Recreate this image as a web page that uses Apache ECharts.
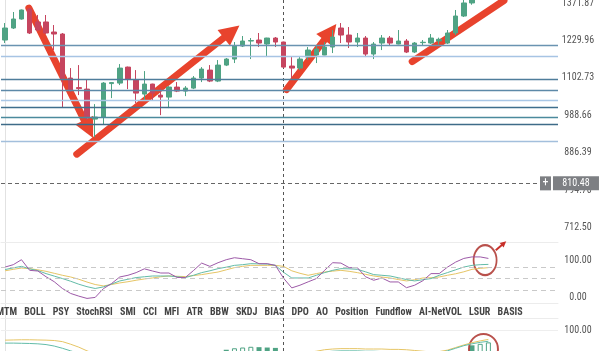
<!DOCTYPE html>
<html>
<head>
<meta charset="utf-8">
<script src="https://cdn.jsdelivr.net/npm/echarts@6/dist/echarts.min.js"></script>
<style>
html, body { margin: 0; padding: 0; background: #fff; }
#main { width: 600px; height: 351px; }
</style>
</head>
<body>
<div id="main"></div>
<script>
var chart = echarts.init(document.getElementById('main'));

var slotCount = 68;
var categories = [];
for (var i = 0; i < slotCount; i++) categories.push(String(i));

// [open, close, low, high]
var candles = [
  [1231.4, 1275.3, 1220.6, 1294.0], [1275.3, 1309.3, 1271.6, 1336.4], [1309.3, 1344.2, 1307.0, 1346.0],
  [1348.0, 1256.9, 1253.2, 1352.0], [1298.0, 1268.0, 1264.0, 1325.0], [1298.0, 1256.9, 1253.2, 1324.7],
  [1260.5, 1253.2, 1195.9, 1286.5], [1253.2, 1102.0, 1012.5, 1256.9], [1102.0, 1064.0, 1057.8, 1134.6],
  [1071.8, 1068.7, 1048.6, 1144.6], [1067.1, 980.5, 974.8, 1098.8], [977.7, 983.4, 927.6, 1021.4],
  [983.4, 1086.0, 963.4, 1089.2], [1084.4, 1087.6, 1039.4, 1089.2], [1086.0, 1134.6, 1079.7, 1148.0],
  [1137.9, 1098.8, 1067.1, 1139.6], [1095.6, 1054.7, 1024.4, 1128.0], [1051.7, 1082.9, 1033.4, 1124.7],
  [1082.9, 1054.7, 1033.4, 1084.0], [1048.6, 1042.5, 989.1, 1070.2], [1042.5, 1073.4, 1009.6, 1076.5],
  [1073.4, 1060.9, 1057.8, 1089.2], [1060.9, 1070.2, 1045.5, 1076.5], [1070.2, 1102.0, 1067.1, 1108.5],
  [1102.0, 1131.3, 1089.2, 1137.9], [1128.0, 1092.4, 1089.2, 1144.6], [1092.4, 1144.6, 1089.2, 1161.5],
  [1144.6, 1164.9, 1141.3, 1168.3], [1164.9, 1210.0, 1151.4, 1224.2], [1210.0, 1227.8, 1206.5, 1245.9],
  [1227.8, 1229.6, 1164.9, 1238.6], [1231.4, 1220.6, 1206.5, 1256.9], [1217.1, 1238.6, 1171.7, 1239.5],
  [1238.6, 1224.2, 1206.5, 1242.3], [1224.2, 1137.9, 1134.6, 1225.5], [1141.3, 1134.6, 1102.0, 1171.7],
  [1134.6, 1164.9, 1128.0, 1171.7], [1171.7, 1195.9, 1161.5, 1206.5], [1178.6, 1199.4, 1151.4, 1213.5],
  [1178.6, 1206.5, 1178.0, 1224.2], [1206.5, 1242.3, 1185.5, 1267.9], [1275.3, 1249.5, 1220.6, 1294.0],
  [1249.5, 1224.2, 1203.0, 1279.0], [1224.2, 1238.6, 1206.5, 1256.9], [1238.6, 1182.0, 1171.7, 1245.9],
  [1182.0, 1217.1, 1164.9, 1224.2], [1220.6, 1238.6, 1195.9, 1249.5], [1238.6, 1220.6, 1213.5, 1245.9],
  [1217.1, 1227.8, 1216.0, 1267.9], [1227.8, 1189.0, 1185.5, 1235.0], [1189.0, 1220.6, 1185.5, 1224.2],
  [1222.0, 1223.5, 1213.5, 1231.4], [1220.6, 1238.6, 1217.1, 1253.2], [1228.0, 1234.0, 1215.0, 1240.0],
  [1220.6, 1256.9, 1217.1, 1267.9], [1256.9, 1320.8, 1249.5, 1344.2], [1320.8, 1372.0, 1317.0, 1390.0],
  [1372.0, 1400.0, 1365.0, 1410.0], [1400.0, 1440.0, 1395.0, 1455.0], [1440.0, 1470.0, 1432.0, 1490.0]
];

var priceTicks = [1371.87, 1229.96, 1102.73, 988.66, 886.39, 794.70, 712.50];
var priceMin = 683, priceMax = 1384;
var levels = [1217.1, 1172.8, 1099.8, 1061.0, 1033.4, 1009.6, 987.2, 959.9, 915.0];
var levelColors = ['#6a93b1', '#a7c4e4', '#4f7d9b', '#5d89a8', '#a9c7e6', '#3f6f8d', '#4b8a9d', '#3e6b88', '#a3bfdc'];
var crossIndex = 34;
var crossPrice = 810.48;

// drawn arrows, [index, price] pairs
var arrowsHead = [
  [[2.9, 1351.8], [10.2, 949.4]],
  [[8.75, 882.6], [27.65, 1262.0]],
  [[34.35, 1065.6], [39.7, 1260.5]]
];
var arrowsPlain = [
  [[49.7, 1156.4], [60.9, 1382.0]]
];

// indicator pane
var kLine = [81.8, 88.3, 101.8, 72.9, 71, 55.4, 41.9, 23.5, 10, 2.7,
  -3.5, -0.8, 23, 37, 54.8, 59.4, 66.7, 77, 71, 65.6,
  65.6, 53.5, 53.2, 72.4, 92.6, 83.7, 93.7, 101.8, 107.2, 104.5,
  101.8, 91, 91, 86.4, 51.3, 25.1, 32.4, 41.6, 50.5, 72.9,
  93.7, 92.6, 80.2, 80.2, 55.4, 45.9, 52.1, 41.3, 41.3, 25.7,
  32.4, 44.6, 64, 64, 81.5, 95.3, 105.3, 109.4, 109.4, 105.3];
var dLine = [75, 79.7, 83.7, 77, 72.1, 64, 57.2, 50.5, 43.2, 35.1,
  28.4, 23.5, 27.8, 35.6, 44, 48.6, 53.2, 55.4, 57.5, 57.5,
  57.5, 55.4, 53.2, 59.4, 66.7, 71.6, 77.5, 81.5, 86.4, 88.3,
  91, 90.5, 90, 86.4, 67.5, 52.1, 52.1, 52.1, 59.4, 66.7,
  72.9, 77.5, 77, 75.6, 68.9, 61.3, 59.4, 57.5, 52.7, 47.8,
  44, 47.3, 50.5, 59.4, 66.7, 74.3, 81.8, 86.4, 88.3, 89.1];
var jLine = [71.6, 75.6, 79.1, 77.5, 74.3, 70.2, 64.8, 59.4, 54.8, 48.6,
  41, 34.3, 30.5, 34.3, 38.6, 41.9, 45.9, 49.4, 52.1, 55.4,
  57.5, 56.7, 55.9, 58.6, 61.3, 64.8, 68.3, 74.3, 80.2, 83.7,
  86.4, 86.4, 86.4, 86.4, 83.7, 71.6, 64.8, 59.4, 64, 68.3,
  70.7, 72.9, 70.2, 66.7, 62.1, 57.5, 54.5, 52.1, 47.8, 44,
  47.3, 52.1, 52.7, 54.8, 59.4, 63.5, 68.9, 75.6, 78.3, 80.2];
var kdjLevels = [80, 50, 20];
var kdjTicks = [0, 100];
var kdjCircle = [58.6, 100.5];
var kdjPointer = [[59.9, 127.5], [60.9, 146.5]];

// lowest pane
var lowerYellow = [74, 74.5, 75, 75, 74.5, 74, 73, 70, 63, 55,
  45, 37, 30, 25, 22, 20, 20, 21, 23, 25,
  27, 29, 31, 33, 35, 37, 38, 39, 40, 41,
  42, 42, 42, 42, 41, 40, 40, 41, 44, 48,
  50, 51, 51, 51, 50, 50, 50, 49, 49, 48,
  46, 44, 42, 43, 47, 54, 61, 67, 72, 76];
var lowerTeal = [66, 66, 65.5, 65, 64, 62, 58, 52, 45, 38,
  32, 27, 23, 20, 18, 17, 17, 18, 20, 22,
  24, 26, 28, 30, 32, 33, 34, 35, 36, 37,
  38, 38, 38, 38, 37, 36, 36, 37, 39, 42,
  44, 45, 45, 45, 44, 44, 43, 43, 42, 41,
  40, 39, 38, 40, 45, 52, 59, 64, 68, 71];
var lowerBars = [];
lowerBars[27] = 48; lowerBars[28] = 52; lowerBars[29] = 54; lowerBars[30] = 56;
lowerBars[31] = 55; lowerBars[32] = 54; lowerBars[33] = 53;
lowerBars[57] = 60; lowerBars[58] = 64; lowerBars[59] = 68;
var lowerTicks = [100];
var lowerCircle = [58.4, 50];

var tabs = ['MTM', 'BOLL', 'PSY', 'StochRSI', 'SMI', 'CCI', 'MFI', 'ATR', 'BBW', 'SKDJ', 'BIAS',
  'DPO', 'AO', 'Position', 'Fundflow', 'AI-NetVOL', 'LSUR', 'BASIS'];

var fontStack = "'Liberation Sans Narrow', 'Roboto Condensed', Roboto, sans-serif";
var upColor = '#4fa384', downColor = '#c6455f';
var arrowRed = '#e8432d';
var circleRed = '#a8261f';

function pairs(arr) {
  var out = [];
  for (var i = 0; i < arr.length; i++) out.push([i, arr[i]]);
  return out;
}
function logPair(p) { return [p[0], Math.log(p[1])]; }

var bars = [];
var prev = null;
for (var b = 0; b < lowerBars.length; b++) {
  var v = lowerBars[b];
  if (v == null) { prev = null; continue; }
  var hollow = prev != null && v > prev;
  bars.push({
    value: [b, v],
    itemStyle: hollow ? { color: '#fff', borderColor: upColor, borderWidth: 1 } : { color: upColor }
  });
  prev = v;
}

var labelStyle = { color: '#555', fontSize: 10, fontFamily: fontStack };

function gridBox(top, height) {
  return { left: 1, right: 42, top: top, height: height, outerBoundsMode: 'none', containLabel: false };
}

var option = {
  animation: false,
  backgroundColor: '#fff',
  title: {
    text: tabs.map(function (t) { return '{t|' + t + '}'; }).join(''),
    left: -7,
    top: 306,
    padding: 0,
    textStyle: {
      rich: { t: { fontSize: 10, fontFamily: fontStack, color: '#444', padding: [0, 3.6, 0, 3.6], lineHeight: 12 } }
    }
  },
  grid: [
    gridBox(0, 242),
    gridBox(242, 61),
    gridBox(318, 55),
    gridBox(0, 242),
    gridBox(0, 351)
  ],
  xAxis: [
    { type: 'category', gridIndex: 0, data: categories, boundaryGap: true,
      axisLine: { show: true, lineStyle: { color: '#ececec' } }, axisTick: { show: false }, axisLabel: { show: false }, splitLine: { show: false } },
    { type: 'value', gridIndex: 1, min: -0.5, max: slotCount - 0.5,
      axisLine: { show: true, onZero: false, lineStyle: { color: '#ececec' } }, axisTick: { show: false }, axisLabel: { show: false }, splitLine: { show: false } },
    { type: 'value', gridIndex: 2, position: 'top', min: -0.5, max: slotCount - 0.5,
      axisLine: { show: true, onZero: false, lineStyle: { color: '#ececec' } }, axisTick: { show: false }, axisLabel: { show: false }, splitLine: { show: false } },
    { type: 'value', gridIndex: 3, min: -0.5, max: slotCount - 0.5, show: false },
    { type: 'value', gridIndex: 4, min: -0.5, max: slotCount - 0.5, show: false }
  ],
  yAxis: [
    { type: 'value', gridIndex: 0, position: 'right', min: Math.log(priceMin), max: Math.log(priceMax),
      axisLine: { show: false }, axisTick: { show: false }, splitLine: { show: false },
      axisLabel: Object.assign({
        customValues: priceTicks.map(Math.log),
        formatter: function (v) { return Math.exp(v).toFixed(2); },
        margin: 20, align: 'center'
      }, labelStyle) },
    { type: 'value', gridIndex: 1, position: 'right', min: -16, max: 150,
      axisLine: { show: false }, axisTick: { show: false }, splitLine: { show: false },
      axisLabel: Object.assign({
        customValues: kdjTicks,
        formatter: function (v) { return v.toFixed(2); },
        margin: 20, align: 'center'
      }, labelStyle) },
    { type: 'value', gridIndex: 2, position: 'right', min: -15, max: 134,
      axisLine: { show: false }, axisTick: { show: false }, splitLine: { show: false },
      axisLabel: Object.assign({
        customValues: lowerTicks,
        formatter: function (v) { return v.toFixed(2); },
        margin: 20, align: 'center'
      }, labelStyle) },
    { type: 'value', gridIndex: 3, min: Math.log(priceMin), max: Math.log(priceMax), show: false },
    { type: 'value', gridIndex: 4, position: 'right', min: 0, max: 1,
      axisLine: { show: true, lineStyle: { color: '#e2e2e2' } }, axisTick: { show: false }, axisLabel: { show: false }, splitLine: { show: false } }
  ],
  series: [
    {
      type: 'candlestick', xAxisIndex: 0, yAxisIndex: 0, barWidth: 5,
      data: candles.map(function (c) { return c.map(Math.log); }),
      itemStyle: { color: upColor, color0: downColor, borderColor: upColor, borderColor0: downColor, borderWidth: 1 },
      markLine: {
        silent: true, symbol: 'none', label: { show: false },
        lineStyle: { width: 1.3, type: 'solid' },
        data: levels.map(function (lv, i) { return { yAxis: Math.log(lv), lineStyle: { color: levelColors[i], width: 1.3, type: 'solid' } }; })
      }
    },
    {
      type: 'line', xAxisIndex: 1, yAxisIndex: 1, data: pairs(jLine), showSymbol: false,
      lineStyle: { color: '#e6c565', width: 1 }, itemStyle: { color: '#e6c565' },
      markLine: {
        silent: true, symbol: 'none', label: { show: false },
        lineStyle: { color: '#c9c9c9', width: 1, type: [5, 4] },
        data: kdjLevels.map(function (lv) { return { yAxis: lv }; })
      }
    },
    { type: 'line', xAxisIndex: 1, yAxisIndex: 1, data: pairs(dLine), showSymbol: false,
      lineStyle: { color: '#63bca8', width: 1 }, itemStyle: { color: '#63bca8' } },
    { type: 'line', xAxisIndex: 1, yAxisIndex: 1, data: pairs(kLine), showSymbol: false,
      lineStyle: { color: '#9d5aa8', width: 1 }, itemStyle: { color: '#9d5aa8' } },
    { type: 'scatter', xAxisIndex: 1, yAxisIndex: 1, data: [kdjCircle], symbol: 'circle', symbolSize: [23, 30],
      itemStyle: { color: 'rgba(0,0,0,0)', borderColor: circleRed, borderWidth: 2 } },
    { type: 'lines', coordinateSystem: 'cartesian2d', xAxisIndex: 1, yAxisIndex: 1,
      symbol: ['none', 'triangle'], symbolSize: 6,
      lineStyle: { color: '#c8302a', width: 2, opacity: 1 },
      data: [{ coords: kdjPointer }] },
    { type: 'bar', xAxisIndex: 2, yAxisIndex: 2, barWidth: 5, data: bars },
    {
      type: 'line', xAxisIndex: 2, yAxisIndex: 2, data: pairs(lowerYellow), showSymbol: false,
      lineStyle: { color: '#e6c565', width: 1 }, itemStyle: { color: '#e6c565' },
      markLine: {
        silent: true, symbol: 'none', label: { show: false },
        lineStyle: { color: '#eeeeee', width: 1, type: 'solid' },
        data: lowerTicks.map(function (lv) { return { yAxis: lv }; })
      }
    },
    { type: 'line', xAxisIndex: 2, yAxisIndex: 2, data: pairs(lowerTeal), showSymbol: false,
      lineStyle: { color: '#63bca8', width: 1 }, itemStyle: { color: '#63bca8' } },
    { type: 'scatter', xAxisIndex: 2, yAxisIndex: 2, data: [lowerCircle], symbol: 'circle', symbolSize: [29, 30],
      itemStyle: { color: 'rgba(0,0,0,0)', borderColor: circleRed, borderWidth: 2 } },
    {
      type: 'line', xAxisIndex: 3, yAxisIndex: 3, data: [],
      markLine: {
        silent: true, symbol: 'none',
        lineStyle: { color: '#666', width: 1, type: [4, 3] },
        label: {
          show: true, position: 'end', distance: 0,
          formatter: '{p|+}{g|}{v|' + crossPrice.toFixed(2) + '}',
          rich: {
            p: { backgroundColor: '#7d7f83', color: '#fff', width: 11, height: 14, align: 'center', fontSize: 12, fontFamily: fontStack },
            g: { width: 2, height: 14 },
            v: { backgroundColor: '#7d7f83', color: '#fff', width: 46, height: 14, align: 'center', fontSize: 10, fontFamily: fontStack }
          }
        },
        data: [[{ coord: [-0.5, Math.log(crossPrice)] }, { coord: [65.3, Math.log(crossPrice)] }]]
      }
    },
    { type: 'lines', coordinateSystem: 'cartesian2d', xAxisIndex: 3, yAxisIndex: 3,
      symbol: ['none', 'triangle'], symbolSize: 20,
      lineStyle: { color: arrowRed, width: 7, opacity: 1, cap: 'round' },
      data: arrowsHead.map(function (a) { return { coords: [logPair(a[0]), logPair(a[1])] }; }) },
    { type: 'lines', coordinateSystem: 'cartesian2d', xAxisIndex: 3, yAxisIndex: 3,
      symbol: 'none',
      lineStyle: { color: arrowRed, width: 7, opacity: 1, cap: 'round' },
      data: arrowsPlain.map(function (a) { return { coords: [logPair(a[0]), logPair(a[1])] }; }) },
    { type: 'lines', coordinateSystem: 'cartesian2d', xAxisIndex: 4, yAxisIndex: 4,
      symbol: 'none',
      lineStyle: { color: '#555', width: 1, opacity: 1, type: [3, 3] },
      data: [{ coords: [[crossIndex, 0], [crossIndex, 1]] }] }
  ]
};

chart.setOption(option);
</script>
</body>
</html>
